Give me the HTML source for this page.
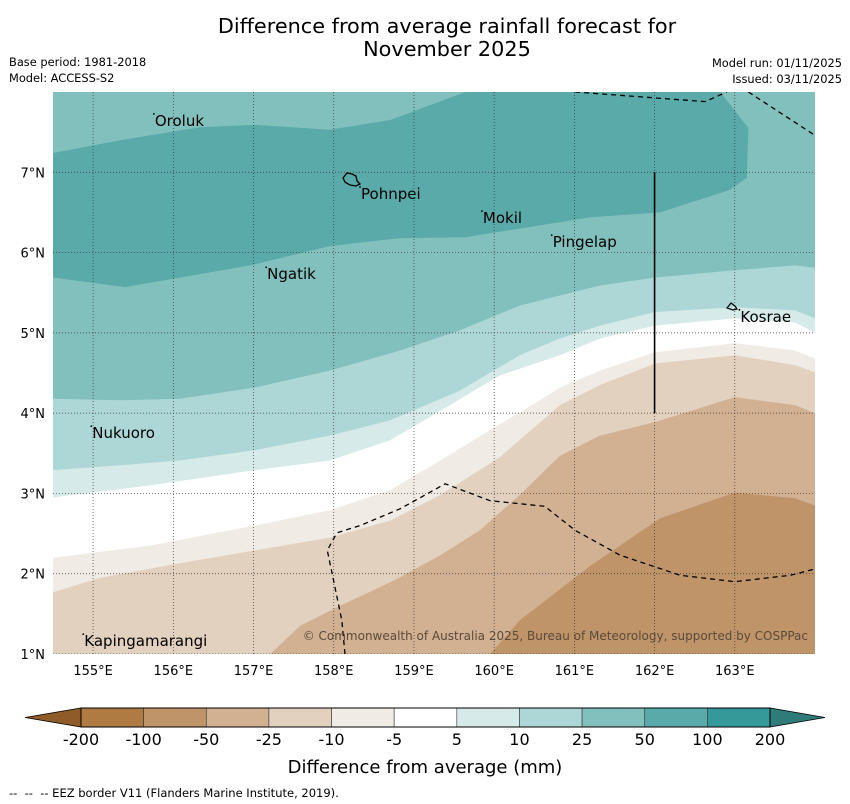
<!DOCTYPE html>
<html><head><meta charset="utf-8"><style>
body{margin:0;background:#fff;width:850px;height:804px;overflow:hidden;font-family:"DejaVu Sans","Liberation Sans",sans-serif}
svg{display:block}
</style></head><body>
<svg id="chart" width="850" height="804" viewBox="0 0 850 804" xmlns="http://www.w3.org/2000/svg">
<text x="447" y="33" font-size="20.8" text-anchor="middle">Difference from average rainfall forecast for</text>
<text x="447" y="56" font-size="20.8" text-anchor="middle">November 2025</text>
<text x="9" y="66" font-size="11.4">Base period: 1981-2018</text>
<text x="9" y="82" font-size="11.4">Model: ACCESS-S2</text>
<text x="842" y="67" font-size="11.4" text-anchor="end">Model run: 01/11/2025</text>
<text x="842" y="83" font-size="11.4" text-anchor="end">Issued: 03/11/2025</text>
<defs><clipPath id="mapclip"><rect x="53" y="92" width="762" height="562"/></clipPath></defs>
<g id="map" clip-path="url(#mapclip)"></g>
<g id="axes"></g>
<g id="cbar"></g>
<text x="425" y="773" font-size="18" text-anchor="middle">Difference from average (mm)</text>
<text x="9" y="797" font-size="11.5" xml:space="preserve">--  --  -- EEZ border V11 (Flanders Marine Institute, 2019).</text>
</svg>
<script>
// axis domain
const lonMin=154.5, lonMax=164.0, latMin=1.0, latMax=8.0;
const lonTicks=[155,156,157,158,159,160,161,162,163];
const latTicks=[1,2,3,4,5,6,7];
// contour boundary data [lon,lat]
const level50=[[154.5,7.24],[155.34,7.40],[156.33,7.56],[157.02,7.59],[157.95,7.53],[158.70,7.65],[159.64,8.0],[162.82,8.0],[163.17,7.55],[163.15,6.93],[162.94,6.78],[162.07,6.50],[161.20,6.44],[159.64,6.19],[158.83,6.18],[157.95,6.08],[156.96,5.84],[155.40,5.57],[154.5,5.69]];
const level25=[[154.5,4.18],[155.34,4.16],[156.08,4.18],[157.02,4.32],[157.95,4.53],[158.83,4.78],[159.57,5.03],[160.32,5.34],[161.32,5.59],[162.01,5.69],[163.0,5.78],[163.75,5.84],[164.0,5.81]];
const level10=[[154.5,3.29],[155.34,3.35],[156.08,3.41],[157.02,3.54],[157.95,3.72],[158.70,3.91],[159.57,4.28],[160.32,4.72],[160.82,4.93],[161.32,5.09],[162.01,5.26],[163.0,5.32],[163.75,5.28],[164.0,5.18]];
const level5=[[154.5,2.95],[155.71,3.10],[157.02,3.29],[157.95,3.41],[158.70,3.66],[159.33,4.03],[160.07,4.47],[160.82,4.72],[161.32,4.93],[162.01,5.09],[163.0,5.18],[163.75,5.13],[164.0,5.0]];
const levelM5=[[154.5,2.20],[155.71,2.35],[157.02,2.60],[157.95,2.79],[158.70,3.04],[159.33,3.41],[159.95,3.79],[160.57,4.16],[160.82,4.32],[161.32,4.53],[162.01,4.76],[163.0,4.87],[163.75,4.78],[164.0,4.68]];
const levelM10=[[154.5,1.77],[155.09,1.95],[156.08,2.13],[157.02,2.29],[157.95,2.45],[158.70,2.66],[159.33,2.98],[160.07,3.45],[160.82,4.10],[161.32,4.35],[162.01,4.62],[163.0,4.72],[163.75,4.60],[164.0,4.51]];
const levelM25=[[157.21,1.0],[157.58,1.35],[158.08,1.60],[158.76,1.92],[159.33,2.23],[159.82,2.54],[160.32,2.98],[160.82,3.47],[161.32,3.72],[162.01,3.89],[163.0,4.20],[163.75,4.10],[164.0,4.0]];
const levelM50=[[159.95,1.0],[160.32,1.42],[161.20,2.10],[162.07,2.69],[163.0,3.01],[163.75,2.94],[164.0,2.85]];
const eezTop1=[[161.01,8.0],[162.63,7.88],[162.9,8.0]];
const eezTop2=[[163.17,8.0],[164.0,7.46]];
const eezSouth=[[158.14,1.0],[158.1,1.42],[158.01,1.86],[157.92,2.29],[158.04,2.51],[158.33,2.60],[158.83,2.81],[159.39,3.12],[159.95,2.91],[160.63,2.84],[161.01,2.54],[161.57,2.23],[162.32,1.98],[163.0,1.90],[163.69,1.98],[164.0,2.06]];
const islands=[["Oroluk",155.77,7.64],["Pohnpei",158.34,6.73],["Mokil",159.86,6.43],["Pingelap",160.73,6.13],["Ngatik",157.17,5.73],["Kosrae",163.07,5.2],["Nukuoro",154.99,3.75],["Kapingamarangi",154.89,1.16]];
const cbLabels=["-200","-100","-50","-25","-10","-5","5","10","25","50","100","200"];
const cbColors=["#b07a43","#c09469","#d2b092","#e3d1c0","#f1ebe5","#ffffff","#d6eae9","#add7d6","#82c0be","#5aaaa9","#35999a"];

const X0=53,X1=815,Y0=92,Y1=654;
const sx=l=>X0+(l-lonMin)/(lonMax-lonMin)*(X1-X0);
const sy=l=>Y1-(l-latMin)/(latMax-latMin)*(Y1-Y0);
const NS="http://www.w3.org/2000/svg";
function mk(tag,attrs,parent){const e=document.createElementNS(NS,tag);for(const k in attrs)e.setAttribute(k,attrs[k]);parent.appendChild(e);return e;}
const pts=a=>a.map(p=>sx(p[0]).toFixed(1)+","+sy(p[1]).toFixed(1)).join(" ");
const map=document.getElementById('map');
let r=mk('rect',{x:X0,y:Y0,width:X1-X0,height:Y1-Y0,fill:'#fff'},map);


function north(line,col,name){
  const p=mk('polygon',{points:pts([[lonMin,latMax+1]].concat(line).concat([[lonMax,latMax+1]])),fill:col},map);
  
  
}
function south(line,col,name){
  const p=mk('polygon',{points:pts([[lonMin,latMin-1]].concat(line).concat([[lonMax,latMin-1]])),fill:col},map);
  
  
}
north(level5,'#d6eae9','band-5-10');
north(level10,'#add7d6','band-10-25');
north(level25,'#82c0be','band-25-50');
south(levelM5,'#f1ebe5','band-minus10-minus5');
south(levelM10,'#e3d1c0','band-minus25-minus10');
south(levelM25,'#d2b092','band-minus50-minus25');
south(levelM50,'#c09469','band-minus100-minus50');
let p50=mk('polygon',{points:pts(level50),fill:'#5aaaa9'},map);


// grid
lonTicks.forEach(l=>{const g=mk('line',{x1:sx(l),x2:sx(l),y1:Y0,y2:Y1,stroke:'#333','stroke-width':0.7,'stroke-dasharray':'1,2'},map);

});
latTicks.forEach(l=>{const g=mk('line',{x1:X0,x2:X1,y1:sy(l),y2:sy(l),stroke:'#333','stroke-width':0.7,'stroke-dasharray':'1,2'},map);

});
[eezTop1,eezTop2,eezSouth].forEach(a=>{const e=mk('polyline',{points:pts(a),fill:'none',stroke:'#000','stroke-width':1.3,'stroke-dasharray':'5,4'},map);

});
let vl=mk('line',{x1:sx(162),x2:sx(162),y1:sy(7),y2:sy(4),stroke:'#000','stroke-width':1.6},map);


// islands
islands.forEach(d=>{
  const dot=mk('circle',{cx:sx(d[1])-1,cy:sy(d[2])-7,r:0.9,fill:'#000'},map);
  
  
  const t=mk('text',{x:sx(d[1]),y:sy(d[2])+5,'font-size':15},map);
  t.textContent=d[0];
  
  
});
let pohn=mk('path',{d:"M343,178 l4,-5 l5,1 l4,2 l1,5 l3,3 l-4,2 l-6,-1 l-5,-3 z",fill:'none',stroke:'#000','stroke-width':1.3},map);


let kos=mk('path',{d:"M727,308 l4,-5 l4,3 l2,3 l-4,1 l-6,-2 z",fill:'none',stroke:'#000','stroke-width':1.2},map);


let cr=mk('text',{x:808,y:640,'font-size':12,fill:'#5a4a3a','text-anchor':'end'},map);
cr.textContent="© Commonwealth of Australia 2025, Bureau of Meteorology, supported by COSPPac";


// axes labels
const ax=document.getElementById('axes');
lonTicks.forEach(l=>{const t=mk('text',{x:sx(l),y:675,'font-size':13,'text-anchor':'middle'},ax);t.textContent=l+"°E";

});
latTicks.forEach(l=>{const t=mk('text',{x:45,y:sy(l)+5,'font-size':13,'text-anchor':'end'},ax);t.textContent=l+"°N";

});
// colorbar
const cb=document.getElementById('cbar');
const cx0=81,cx1=770,cy=708,ch=19,w=(cx1-cx0)/cbColors.length;
let lt=mk('polygon',{points:`25,${cy+ch/2} ${cx0},${cy} ${cx0},${cy+ch}`,fill:'#8f5b28',stroke:'#000','stroke-width':0.8},cb);


let rt=mk('polygon',{points:`825,${cy+ch/2} ${cx1},${cy} ${cx1},${cy+ch}`,fill:'#2f7b7a',stroke:'#000','stroke-width':0.8},cb);


cbColors.forEach((c,i)=>{const b=mk('rect',{x:cx0+i*w,y:cy,width:w,height:ch,fill:c,stroke:'#333','stroke-width':0.6},cb);

});
let fr=mk('rect',{x:cx0,y:cy,width:cx1-cx0,height:ch,fill:'none',stroke:'#000','stroke-width':1},cb);


cbLabels.forEach((s,i)=>{const t=mk('text',{x:cx0+i*w,y:745,'font-size':16,'text-anchor':'middle'},cb);t.textContent=s;

});
</script>
</body></html>
